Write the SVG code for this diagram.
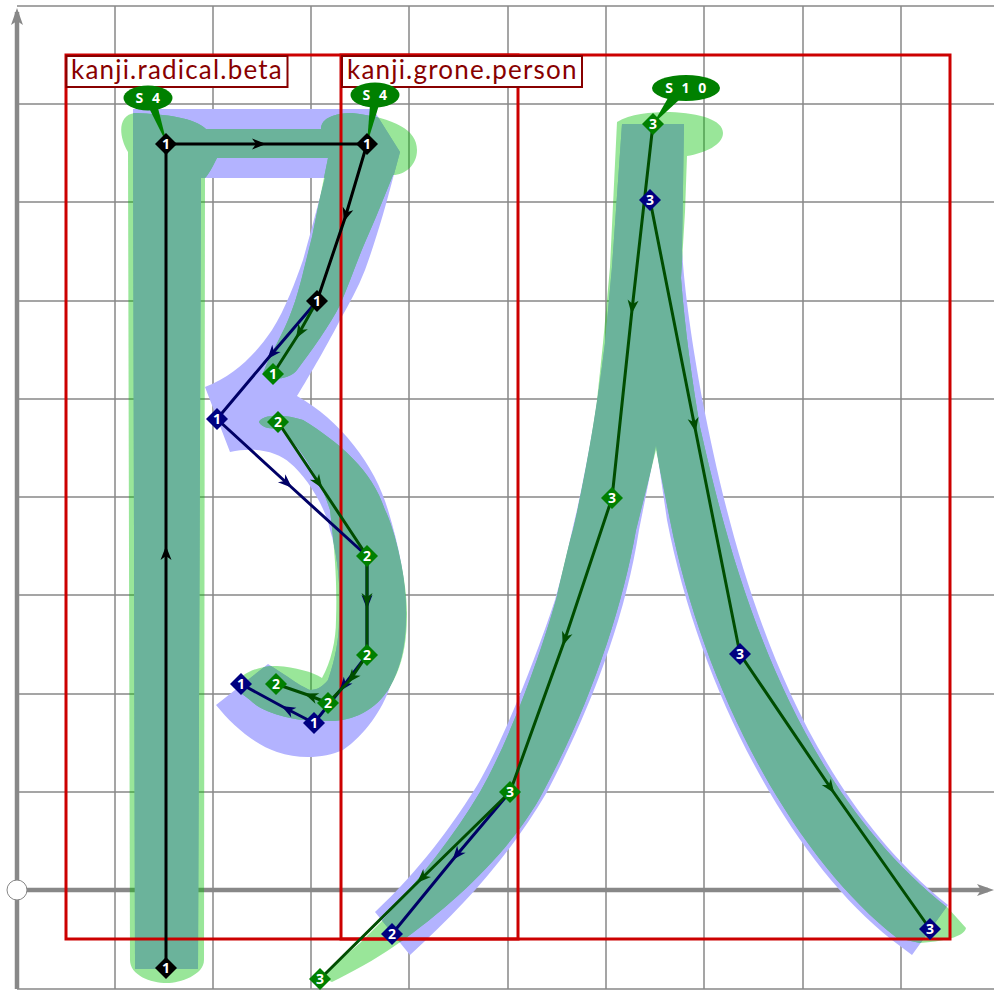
<svg xmlns="http://www.w3.org/2000/svg" xmlns:xlink="http://www.w3.org/1999/xlink" width="994" height="990" viewBox="0 0 994 990">
<style>
.grid{stroke:#888;stroke-width:1.5;fill:none}
.axis{stroke:#888;stroke-width:4.5;fill:none}
.axh{fill:#888}
.blue{fill:#b3b3ff}
.green{fill:#00c000;fill-opacity:.4}
.both{fill:#6bb39b}
.box{fill:none;stroke:#cc0000;stroke-width:3}
.lab{fill:#fff;stroke:#880000;stroke-width:2}
.labt{fill:#880000;font:26px "Lato","DejaVu Sans",sans-serif;letter-spacing:1.2px}
.k,.b,.g,.n{fill:none;stroke-width:3}
.k{stroke:#000;marker-mid:url(#mk)}
.g{stroke:#004d00;marker-mid:url(#mg)}
.n{stroke:#000066;marker-mid:url(#mn)}
.dk{fill:#000}.dn{fill:#000080}.dg{fill:#008000}
.t{fill:#fff;font:bold 14px "Open Sans",sans-serif;text-anchor:middle}
.call{fill:#008000}
.ct{fill:#fff;font:bold 14px "Open Sans",sans-serif;text-anchor:middle;letter-spacing:2.500px}
</style>
<defs>
<marker id="mk" markerUnits="userSpaceOnUse" markerWidth="16" markerHeight="14" refX="10" refY="7" orient="auto" overflow="visible"><path d="M0,1.5 L14,7 L0,12.5 L4,7Z" fill="#000"/></marker>
<marker id="mg" markerUnits="userSpaceOnUse" markerWidth="16" markerHeight="14" refX="10" refY="7" orient="auto" overflow="visible"><path d="M0,1.5 L14,7 L0,12.5 L4,7Z" fill="#004d00"/></marker>
<marker id="mn" markerUnits="userSpaceOnUse" markerWidth="16" markerHeight="14" refX="10" refY="7" orient="auto" overflow="visible"><path d="M0,1.5 L14,7 L0,12.5 L4,7Z" fill="#000066"/></marker>
<path id="bl1" d="M133,109 L373,109 L400,152 L393,178 C386,205 376,240 365,270 C358,288 349,304 340,320 C330,340 310,375 297,396 C340,420 375,465 388,510 C400,550 407,585 406,620 C405,650 400,668 390,687 C382,710 365,735 343,750 C325,758 300,760 277,752 C255,745 232,725 216,705 L268,664 L288,677 C298,684 305,688 310,690 C318,690 323,686 328,680 C335,660 339,640 339,620 C341,590 338,555 330,530 C325,505 305,475 290,463 C278,452 255,446 230,452 L205,387 C235,375 255,355 272,330 C285,310 296,280 303,260 C310,235 318,205 325,178 L205,178 L201,178 L198,969 L135,969 Z"/>
<path id="bl2" d="M622,124 L684,124 L682,250 C685,300 695,360 703,403 C730,540 785,775 948,905 L912,955 L892,940 C790,860 700,690 667,520 L656,445 L639,530 C625,620 590,710 547,792 C510,855 465,905 410,955 L375,912 C420,870 452,825 473,792 C500,750 535,660 555,600 C565,565 572,530 577,510 C590,450 598,400 605,343 L612,267 Z"/>
<path id="gr1" d="M128,152 C118,135 118,115 135,113 C165,114 195,118 206,129 L321,129 C321,118 335,113 352,113 C395,118 417,130 417,150 C417,165 405,175 393,175 C385,195 375,220 366,240 C358,258 350,282 340,305 C330,325 312,350 297,370 C290,380 265,382 263,373 C272,350 283,335 292,310 C296,300 300,285 303,273 L312,237 L328,158 L217,158 C212,168 208,175 205,178 L204,960 C204,975 180,983 167,983 C150,983 130,975 130,960 Z"/>
<path id="gr2" d="M259,422 C262,414 285,414 303,420 C340,443 372,470 385,510 C395,530 407,580 407,613 C407,650 400,670 390,687 C375,712 350,722 327,721 C300,722 265,715 250,700 L233,687 C240,672 262,665 277,666 C295,667 313,672 322,678 C331,662 336,640 336,620 C337,590 336,560 330,510 C322,483 303,450 280,427 C272,430 262,428 259,422 Z"/>
<path id="gr3" d="M617,122 C630,114 650,112 670,112 C700,113 723,120 723,133 C723,145 705,153 687,156 L685,212 L681,278 C685,330 692,380 700,427 C727,545 782,778 948,908 L966,928 C965,935 950,941 920,943 L897,938 C793,857 703,688 670,520 L656,450 L636,530 C622,610 590,705 543,792 C515,845 460,900 396,945 C375,960 350,973 332,982 L320,977 L360,943 L383,920 C420,878 455,835 480,792 C515,730 545,640 557,596 C565,560 570,540 573,530 C578,510 590,450 597,400 L603,343 L610,267 Z"/>
<clipPath id="cb"><use xlink:href="#bl1"/><use xlink:href="#bl2"/></clipPath>
</defs>
<g id="grid">
<path class="grid" d="M17,6H994M17,104H994M17,202H994M17,301H994M17,399H994M17,497H994M17,595H994M17,694H994M17,792H994M17,989H994M115,6V989M213,6V989M311,6V989M409,6V989M508,6V989M606,6V989M704,6V989M803,6V989M901,6V989"/>
<path class="axis" d="M17,989V12M17,890H988"/>
<path class="axh" d="M17,8 L23,25 L17,21 L11,25Z M994,890 L977,884 L981,890 L977,896Z"/>
<circle cx="17" cy="890" r="10" fill="#fff" stroke="#888" stroke-width="1"/>
</g>
<g id="strokes">
<use xlink:href="#bl1" class="blue"/>
<use xlink:href="#bl2" class="blue"/>
<use xlink:href="#gr1" class="green"/>
<use xlink:href="#gr2" class="green"/>
<use xlink:href="#gr3" class="green"/>
<g clip-path="url(#cb)">
<use xlink:href="#gr1" class="both"/>
<use xlink:href="#gr2" class="both"/>
<use xlink:href="#gr3" class="both"/>
</g>
</g>
<g id="bounds">
<rect class="box" x="66" y="55" width="452" height="884"/>
<rect class="box" x="341" y="55" width="609" height="884"/>
</g>
<g id="label-beta"><rect class="lab" x="66.500" y="56" width="221" height="31"/><text class="labt" x="71" y="79">kanji.radical.beta</text></g>
<g id="label-person"><rect class="lab" x="342" y="56" width="240" height="31"/><text class="labt" x="347" y="79">kanji.grone.person</text></g>
<g id="connectors">
<path class="n" d="M317,301L270,356L217,419"/>
<path class="n" d="M217,419L289,485L367,556"/>
<path class="n" d="M367,556L367,605L367,655"/>
<path class="n" d="M367,655L342,688L314,723"/>
<path class="n" d="M314,723L285,708L241,684"/>
<path class="n" d="M510,792L455,857L392,934"/>
<path class="g" d="M317,301L298,335L273,374"/>
<path class="g" d="M278,422L320,485L367,556"/>
<path class="g" d="M367,556L367,603L367,655"/>
<path class="g" d="M367,655L350,680L328,703"/>
<path class="g" d="M328,703L308,695L276,684"/>
<path class="g" d="M653,124L632,310L612,498"/>
<path class="g" d="M612,498L564,642L510,792"/>
<path class="g" d="M510,792L420,880L320,979"/>
<path class="g" d="M650,200L695,428L740,654"/>
<path class="g" d="M740,654L832,790L930,929"/>
<path class="k" d="M166,968L166,550L166,144"/>
<path class="k" d="M166,144L262,144L367,144"/>
<path class="k" d="M367,144L345,218L317,301"/>
</g>
<g id="callouts">
<path class="call" d="M149,108L158,108L167,144Z"/><ellipse class="call" cx="148" cy="98" rx="24.500" ry="12.500"/><text class="ct" x="149" y="103">S 4</text>
<path class="call" d="M370,105L379,105L367,144Z"/><ellipse class="call" cx="375" cy="95" rx="24.500" ry="12.500"/><text class="ct" x="376" y="100">S 4</text>
<path class="call" d="M668,98L679,100L653,124Z"/><ellipse class="call" cx="686" cy="88" rx="34" ry="13"/><text class="ct" x="687" y="93">S 1 0</text>
</g>
<g id="n1"><path class="dk" d="M166,133l11,11l-11,11l-11,-11Z"/><text class="t" x="166" y="149">1</text></g>
<g id="n2"><path class="dk" d="M367,133l11,11l-11,11l-11,-11Z"/><text class="t" x="367" y="149">1</text></g>
<g id="n3"><path class="dk" d="M317,290l11,11l-11,11l-11,-11Z"/><text class="t" x="317" y="306">1</text></g>
<g id="n4"><path class="dk" d="M166,957l11,11l-11,11l-11,-11Z"/><text class="t" x="166" y="973">1</text></g>
<g id="n5"><path class="dn" d="M217,408l11,11l-11,11l-11,-11Z"/><text class="t" x="217" y="424">1</text></g>
<g id="n6"><path class="dn" d="M241,673l11,11l-11,11l-11,-11Z"/><text class="t" x="241" y="689">1</text></g>
<g id="n7"><path class="dn" d="M314,712l11,11l-11,11l-11,-11Z"/><text class="t" x="314" y="728">1</text></g>
<g id="n8"><path class="dn" d="M392,923l11,11l-11,11l-11,-11Z"/><text class="t" x="392" y="939">2</text></g>
<g id="n9"><path class="dn" d="M650,189l11,11l-11,11l-11,-11Z"/><text class="t" x="650" y="205">3</text></g>
<g id="n10"><path class="dn" d="M740,643l11,11l-11,11l-11,-11Z"/><text class="t" x="740" y="659">3</text></g>
<g id="n11"><path class="dn" d="M930,918l11,11l-11,11l-11,-11Z"/><text class="t" x="930" y="934">3</text></g>
<g id="n12"><path class="dg" d="M273,363l11,11l-11,11l-11,-11Z"/><text class="t" x="273" y="379">1</text></g>
<g id="n13"><path class="dg" d="M278,411l11,11l-11,11l-11,-11Z"/><text class="t" x="278" y="427">2</text></g>
<g id="n14"><path class="dg" d="M367,545l11,11l-11,11l-11,-11Z"/><text class="t" x="367" y="561">2</text></g>
<g id="n15"><path class="dg" d="M367,644l11,11l-11,11l-11,-11Z"/><text class="t" x="367" y="660">2</text></g>
<g id="n16"><path class="dg" d="M328,692l11,11l-11,11l-11,-11Z"/><text class="t" x="328" y="708">2</text></g>
<g id="n17"><path class="dg" d="M276,673l11,11l-11,11l-11,-11Z"/><text class="t" x="276" y="689">2</text></g>
<g id="n18"><path class="dg" d="M653,113l11,11l-11,11l-11,-11Z"/><text class="t" x="653" y="129">3</text></g>
<g id="n19"><path class="dg" d="M612,487l11,11l-11,11l-11,-11Z"/><text class="t" x="612" y="503">3</text></g>
<g id="n20"><path class="dg" d="M510,781l11,11l-11,11l-11,-11Z"/><text class="t" x="510" y="797">3</text></g>
<g id="n21"><path class="dg" d="M320,968l11,11l-11,11l-11,-11Z"/><text class="t" x="320" y="984">3</text></g>
</svg>
